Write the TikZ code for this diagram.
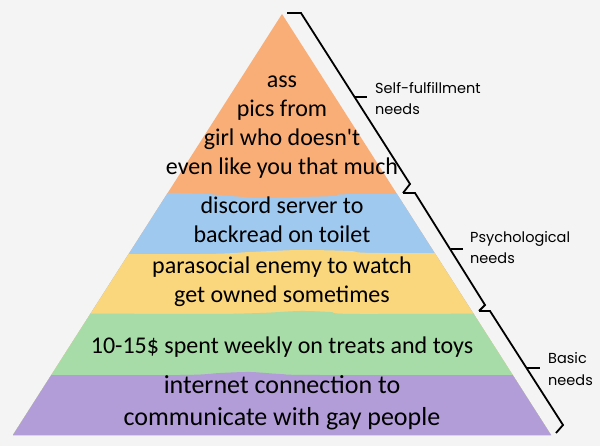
\documentclass[tikz,border=0pt]{standalone}
\usepackage{fontspec}
\setmainfont{Carlito}
\newfontfamily\needsfont{Poppins}
\definecolor{paper}{HTML}{F4F4F4}
\definecolor{selfcol}{HTML}{F9AE77}
\definecolor{discordcol}{HTML}{9FC9EF}
\definecolor{enemycol}{HTML}{FAD67D}
\definecolor{treatcol}{HTML}{A7DBA7}
\definecolor{netcol}{HTML}{B39DD8}

\begin{document}
\begin{tikzpicture}[x=1pt,y=-1pt,
  layertext/.style={anchor=base,align=center,inner sep=0pt,font=\fontsize{24}{29.3}\selectfont},
  needslabel/.style={anchor=base west,align=left,inner sep=0pt,font=\needsfont\fontsize{14.5}{21}\selectfont},
  bracepath/.style={line width=1.8pt,line join=miter}]
\useasboundingbox (0,0) rectangle (600,446);
\fill[paper] (0,0) rectangle (600,446);

% pyramid corners
\coordinate (top) at (282,14);
\coordinate (L) at (13,435);
\coordinate (R) at (551,435);

% painted layers
\begin{scope}
\clip (top) -- (R) -- (L) -- cycle;
\fill[selfcol] (0,0) rectangle (600,446);
\fill[discordcol] plot[smooth] coordinates {(0,193) (180,193) (230,196) (260,198) (300,197) (335,196) (360,194) (600,194)}
  -- (600,446) -- (0,446) -- cycle;
\fill[enemycol] plot[smooth] coordinates {(0,254) (200,254) (250,252) (300,250) (350,251) (380,253) (600,253)}
  -- (600,446) -- (0,446) -- cycle;
\fill[treatcol] plot[smooth] coordinates {(0,313) (200,314) (260,313) (300,311) (330,312) (360,314) (600,313)}
  -- (600,446) -- (0,446) -- cycle;
\fill[netcol] plot[smooth] coordinates {(0,375) (180,375) (220,373) (250,372) (280,374) (320,375) (600,375)}
  -- (600,446) -- (0,446) -- cycle;
\end{scope}

% layer texts (anchored at last baseline)
\node[layertext] (self) at (282,175) {ass\\pics from\\girl who doesn\textquotesingle t\\even like you that much};
\node[layertext] (discord) at (282,243) {discord server to\\backread on toilet};
\node[layertext] (enemy) at (282,303) {parasocial enemy to watch\\get owned sometimes};
\node[layertext] (treats) at (282,354) {10-15\$ spent weekly on treats and toys};
\node[layertext,font=\fontsize{26}{32}\selectfont] (net) at (282,425) {internet connection to\\communicate with gay people};

% braces
\coordinate (b1s) at (287,13);
\coordinate (b1a) at (301,13);
\coordinate (b1b) at (410,184);
\coordinate (b1e) at (403,193);
\coordinate (b2a) at (415,193);
\coordinate (b2b) at (485,305);
\coordinate (b2e) at (479,311);
\coordinate (b3a) at (490,311);
\coordinate (b3b) at (563,425);
\coordinate (b3e) at (556,433);
\draw[bracepath] (b1s) -- (b1a) -- (b1b) -- (b1e);
\draw[bracepath] (b1e) -- (b2a) -- (b2b) -- (b2e);
\draw[bracepath] (b2e) -- (b3a) -- (b3b) -- (b3e);

% needs labels
\node[needslabel] (selfneeds) at (375,115) {Self-fulfillment\\needs};
\node[needslabel] (psyneeds) at (470,264) {Psychological\\needs};
\node[needslabel] (basicneeds) at (548,385) {Basic\\needs};

\draw[bracepath] (354.5,97) -- (367,97);
\draw[bracepath] (450.5,249) -- (463,249);
\draw[bracepath] (526.5,368) -- (540,368);
\end{tikzpicture}
\end{document}
